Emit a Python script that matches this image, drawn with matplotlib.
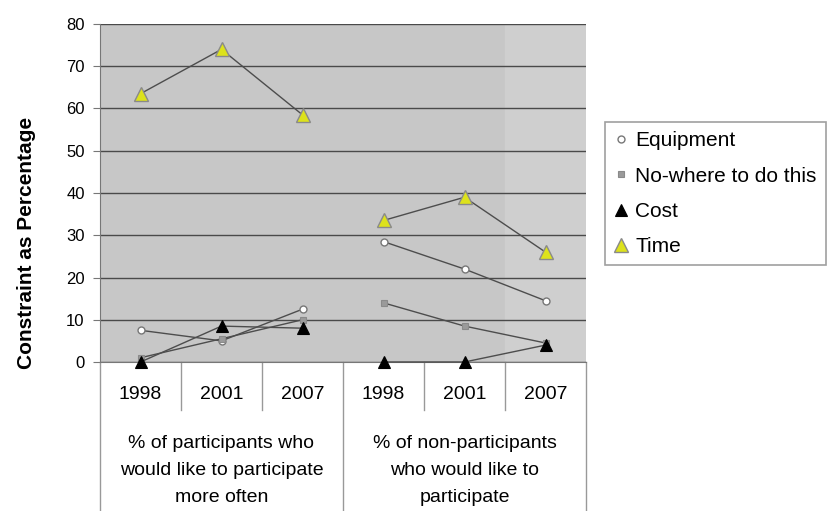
import matplotlib.pyplot as plt
from matplotlib.lines import Line2D
from matplotlib.transforms import blended_transform_factory
import numpy as np

plt.rcParams['font.family'] = ['Liberation Sans', 'DejaVu Sans']

years = ['1998', '2001', '2007', '1998', '2001', '2007']
groups = ['% of participants who\nwould like to participate\nmore often',
          '% of non-participants\nwho would like to\nparticipate']

equipment = [7.5, 5.0, 12.5, 28.5, 22.0, 14.5]
nowhere = [1.0, 5.5, 10.0, 14.0, 8.5, 4.5]
cost = [0.0, 8.5, 8.0, 0.0, 0.0, 4.0]
time = [63.5, 74.0, 58.5, 33.5, 39.0, 26.0]

series = [
    ('Equipment', equipment, dict(marker='o', ms=5, mfc='white', mec='#777777', mew=1)),
    ('No-where to do this', nowhere, dict(marker='s', ms=5, mfc='#9a9a9a', mec='#8a8a8a', mew=0.8)),
    ('Cost', cost, dict(marker='^', ms=8, mfc='black', mec='black', mew=0.8)),
    ('Time', time, dict(marker='^', ms=10, mfc='#dde21c', mec='#8a8a8a', mew=1)),
]

fig = plt.figure(figsize=(8.29, 5.11), dpi=100)
ax = fig.add_axes([100 / 829, 1 - 362 / 511, 486 / 829, 338 / 511])
ax.set_facecolor('#c7c7c7')
ax.axvspan(4.5, 5.5, color='#cfcfcf', zorder=0)

x = np.arange(6)
for name, vals, style in series:
    for g in range(2):
        sl = slice(g * 3, g * 3 + 3)
        ax.plot(x[sl], vals[sl], color='#4d4d4d', lw=1, zorder=3, clip_on=False, **style)

ax.set_xlim(-0.5, 5.5)
ax.set_ylim(0, 80)
ax.set_yticks(range(0, 81, 10))
ax.yaxis.grid(True, color='#4a4a4a', lw=1)
ax.set_axisbelow(True)
ax.tick_params(axis='y', labelsize=12, length=5, pad=6, color='#777777')
ax.set_xticks([])
for side in ['top', 'right']:
    ax.spines[side].set_visible(False)
ax.spines['left'].set_color('#777777')
ax.spines['bottom'].set_color('#777777')

# two-level category axis
tr = blended_transform_factory(ax.transData, ax.transAxes)
for xs in [0.5, 1.5, 3.5, 4.5]:
    ax.plot([xs, xs], [0, -0.142], color='#999999', lw=1, transform=tr, clip_on=False)
for xs in [-0.5, 2.5, 5.5]:
    ax.plot([xs, xs], [0, -0.45], color='#999999', lw=1, transform=tr, clip_on=False)
for i, yr in enumerate(years):
    ax.text(i, -0.095, yr, transform=tr, ha='center', va='center', fontsize=14)
for g, lab in enumerate(groups):
    ax.text(g * 3 + 1, -0.32, lab, transform=tr, ha='center', va='center',
            fontsize=14, linespacing=1.78)

fig.text(27 / 829, 1 - 243 / 511, 'Constraint as Percentage', rotation=90,
         ha='center', va='center', fontsize=15, fontweight='bold')

handles = [Line2D([], [], ls='none', **style) for _, _, style in series]
leg = fig.legend(handles, [s[0] for s in series], loc='upper left',
                 bbox_to_anchor=(605 / 829, 1 - 122 / 511), fontsize=15,
                 frameon=True, fancybox=False, edgecolor='#888888',
                 handlelength=0.6, handletextpad=0.4, labelspacing=0.78,
                 borderpad=0.45, borderaxespad=0)
leg.get_frame().set_linewidth(1.2)

fig.savefig('out.png', dpi=100)
